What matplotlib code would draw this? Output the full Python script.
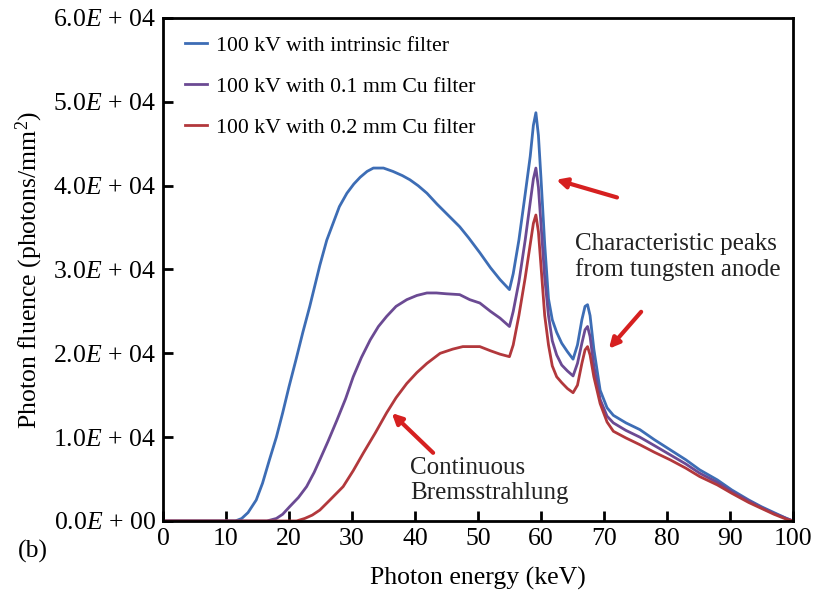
import numpy as np
import matplotlib.pyplot as plt

plt.rcParams['font.family'] = ['Liberation Serif', 'DejaVu Serif']
plt.rcParams['mathtext.fontset'] = 'custom'
plt.rcParams['mathtext.rm'] = 'Liberation Serif'
plt.rcParams['mathtext.it'] = 'Liberation Serif:italic'

# photon energy (keV) and fluence (x1e4 photons/mm^2)
e_blue = [0, 11.5, 12.5, 13.5, 14.8, 15.8, 16.9, 18, 19, 20, 21.1, 22.2, 23.3, 24.9, 26, 27, 28,
          29.2, 30.3, 31.3, 32.4, 33.4, 35, 36.5, 38, 39.2, 40.5, 41.9, 43.5, 45.5, 47.1, 48.5,
          50.3, 52, 53.5, 55.0, 55.6, 56.5, 57.5, 58.3, 58.8, 59.2, 59.6, 60.0, 60.6, 61.2, 61.8, 62.5,
          63.3, 64.2, 65.1, 65.8, 66.5, 67.0, 67.4, 67.8, 68.4, 69.4, 70.5, 71.5, 73.5, 75.7, 78,
          80.5, 83, 85.2, 88, 90.3, 93, 95, 97, 99, 100]
y_blue = [0, 0, 0.03, 0.1, 0.25, 0.45, 0.73, 1.0, 1.29, 1.6, 1.92, 2.25, 2.56, 3.05, 3.35, 3.55, 3.75,
          3.91, 4.02, 4.1, 4.17, 4.21, 4.21, 4.17, 4.12, 4.07, 4.0, 3.91, 3.78, 3.63, 3.51, 3.38,
          3.2, 3.02, 2.88, 2.76, 2.95, 3.35, 3.9, 4.35, 4.72, 4.87, 4.6, 4.1, 3.3, 2.65, 2.4, 2.25,
          2.12, 2.02, 1.93, 2.1, 2.4, 2.56, 2.58, 2.45, 2.05, 1.56, 1.35, 1.26, 1.17, 1.09, 0.97,
          0.85, 0.73, 0.61, 0.49, 0.37, 0.25, 0.17, 0.1, 0.03, 0]

e_purple = [0, 16.5, 18, 19, 20.1, 21.5, 22.8, 24, 24.9, 26.2, 27.6, 29, 30.2, 31.5, 32.9, 34.2, 35.5,
            37, 38.7, 40.3, 41.9, 43.4, 45, 47.1, 48.7, 50.3, 52, 53.5, 55.0, 55.6, 56.5, 57.5, 58.3,
            58.8, 59.2, 59.6, 60.0, 60.6, 61.2, 61.8, 62.5, 63.3, 64.2, 65.1, 65.8, 66.5, 67.0, 67.4, 67.8,
            68.4, 69.4, 70.5, 71.5, 73.5, 75.7, 78, 80.5, 83, 85.2, 88, 90.3, 93, 95, 97, 99, 100]
y_purple = [0, 0, 0.03, 0.08, 0.17, 0.28, 0.41, 0.58, 0.73, 0.95, 1.2, 1.46, 1.72, 1.95, 2.16, 2.32, 2.44,
            2.56, 2.64, 2.69, 2.72, 2.72, 2.71, 2.70, 2.64, 2.6, 2.5, 2.42, 2.32, 2.5, 2.85, 3.35, 3.8,
            4.08, 4.21, 3.98, 3.55, 2.9, 2.45, 2.15, 1.98, 1.86, 1.79, 1.73, 1.88, 2.12, 2.28, 2.32, 2.2,
            1.85, 1.45, 1.25, 1.17, 1.08, 1.0, 0.9, 0.79, 0.68, 0.57, 0.46, 0.35, 0.24, 0.16, 0.09, 0.03, 0]

e_red = [0, 21.2, 22.5, 23.7, 24.9, 26.5, 28.6, 30.2, 31.8, 33.7, 35.5, 37, 38.7, 40.3, 41.9, 44, 46,
         47.6, 49, 50.3, 52, 53.5, 55.0, 55.6, 56.5, 57.5, 58.3, 58.8, 59.2, 59.6, 60.0, 60.6, 61.2, 61.8,
         62.5, 63.3, 64.2, 65.1, 65.8, 66.5, 67.0, 67.4, 67.8, 68.4, 69.4, 70.5, 71.5, 73.5, 75.7, 78,
         80.5, 83, 85.2, 88, 90.3, 93, 95, 97, 99, 100]
y_red = [0, 0, 0.03, 0.07, 0.13, 0.25, 0.41, 0.6, 0.81, 1.05, 1.29, 1.47, 1.64, 1.77, 1.88, 2.0, 2.05,
         2.08, 2.08, 2.08, 2.03, 1.99, 1.96, 2.1, 2.45, 2.9, 3.3, 3.55, 3.65, 3.45, 3.05, 2.45, 2.1, 1.85,
         1.72, 1.65, 1.58, 1.53, 1.62, 1.88, 2.04, 2.08, 1.98, 1.72, 1.4, 1.18, 1.07, 0.99, 0.91, 0.82,
         0.73, 0.63, 0.53, 0.43, 0.33, 0.22, 0.15, 0.08, 0.02, 0]

labels = ['100 kV with intrinsic filter', '100 kV with 0.1 mm Cu filter', '100 kV with 0.2 mm Cu filter']
colors = ['#3d6db5', '#6b4a93', '#b2383c']
yticks = [0, 1e4, 2e4, 3e4, 4e4, 5e4, 6e4]
ytick_labels = ['0.0$E$ + 00', '1.0$E$ + 04', '2.0$E$ + 04', '3.0$E$ + 04',
                '4.0$E$ + 04', '5.0$E$ + 04', '6.0$E$ + 04']

fig = plt.figure(figsize=(8.17, 5.9), dpi=100)
ax = fig.add_axes([0.1995, 0.117, 0.771, 0.8525])

for e, y, c, lab in zip([e_blue, e_purple, e_red], [y_blue, y_purple, y_red], colors, labels):
    ax.plot(e, np.array(y) * 1e4, color=c, lw=2, label=lab, solid_joinstyle='round')

ax.set_xlim(0, 100)
ax.set_ylim(0, 6e4)
ax.set_xticks(range(0, 101, 10))
ax.set_yticks(yticks)
ax.set_yticklabels(ytick_labels)
ax.tick_params(axis='both', direction='in', length=7, width=2, labelsize=18.5,
               top=False, right=False, pad=5)
for s in ax.spines.values():
    s.set_linewidth(2)

ax.set_xlabel('Photon energy (keV)', fontsize=18.5, labelpad=12)
ax.set_ylabel('Photon fluence (photons/mm$^2$)', fontsize=18.5, labelpad=6)

ax.legend(loc='upper left', frameon=False, fontsize=15.7, handlelength=1.0,
          handletextpad=0.4, labelspacing=0.95, borderaxespad=0.4,
          bbox_to_anchor=(0.008, 1.0))

arrow = dict(arrowstyle='-|>', color='#d62020', lw=3, mutation_scale=15)
ax.annotate('', xy=(62.0, 4.08e4), xytext=(72.5, 3.85e4), arrowprops=arrow)
ax.annotate('', xy=(70.5, 2.03e4), xytext=(76.2, 2.52e4), arrowprops=arrow)
ax.annotate('', xy=(36.0, 1.31e4), xytext=(43.2, 0.79e4), arrowprops=arrow)

ax.text(65.4, 3.15e4, 'Characteristic peaks\nfrom tungsten anode', fontsize=18,
        va='center', ha='left', linespacing=1.15, color='#222222')
ax.text(39.2, 0.48e4, 'Continuous\nBremsstrahlung', fontsize=18,
        va='center', ha='left', linespacing=1.15, color='#222222')

fig.text(0.022, 0.055, '(b)', fontsize=18.5)

fig.savefig('out.png', dpi=100)
